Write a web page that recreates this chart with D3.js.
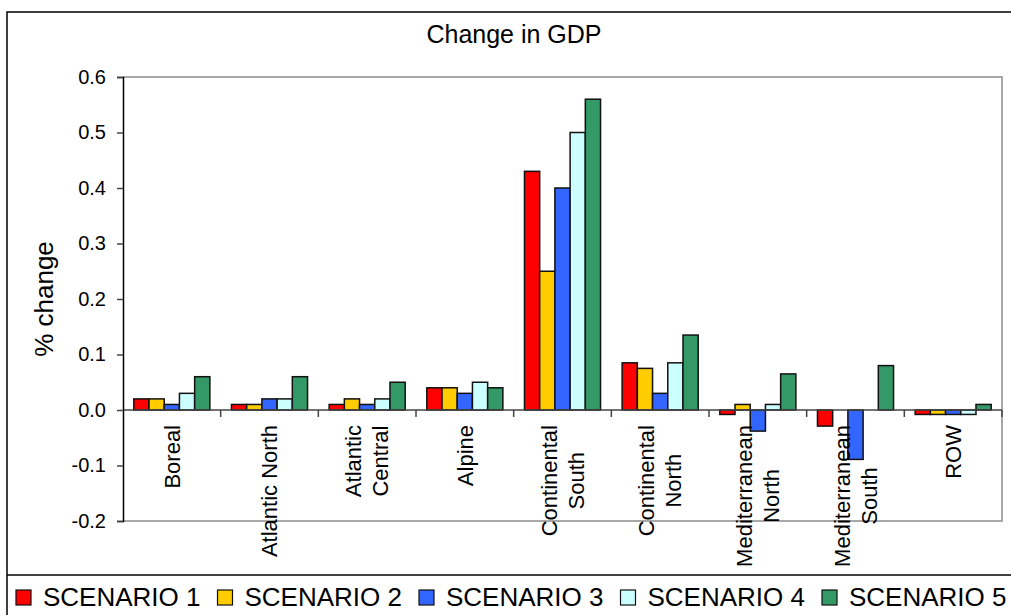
<!DOCTYPE html>
<html>
<head>
<meta charset="utf-8">
<script src="https://cdn.jsdelivr.net/npm/d3@7"></script>
<style>
  body { margin: 0; background: #fff; }
  svg { display: block; font-family: "Liberation Sans", Arial, sans-serif; }
</style>
</head>
<body>
<svg width="1011" height="615"></svg>
<script>
// values
var regions = ["Boreal", "Atlantic North", "Atlantic\nCentral", "Alpine", "Continental\nSouth",
               "Continental\nNorth", "Mediterranean\nNorth", "Mediterranean\nSouth", "ROW"];
var scenarios = ["SCENARIO 1", "SCENARIO 2", "SCENARIO 3", "SCENARIO 4", "SCENARIO 5"];
var scenario1 = [0.02, 0.01, 0.01, 0.04, 0.43, 0.085, -0.008, -0.029, -0.008];
var scenario2 = [0.02, 0.01, 0.02, 0.04, 0.25, 0.075, 0.01, 0, -0.008];
var scenario3 = [0.01, 0.02, 0.01, 0.03, 0.40, 0.03, -0.038, -0.089, -0.008];
var scenario4 = [0.03, 0.02, 0.02, 0.05, 0.50, 0.085, 0.01, 0, -0.008];
var scenario5 = [0.06, 0.06, 0.05, 0.04, 0.56, 0.135, 0.065, 0.08, 0.01];
var yTicks = [-0.2, -0.1, 0, 0.1, 0.2, 0.3, 0.4, 0.5, 0.6];
var yTickLabels = ["-0.2", "-0.1", "0.0", "0.1", "0.2", "0.3", "0.4", "0.5", "0.6"];
var colors = ["#ff0000", "#ffcc00", "#3366ff", "#ccffff", "#339966"];

var series = [scenario1, scenario2, scenario3, scenario4, scenario5];

var svg = d3.select("svg");

var plotLeft = 123, plotRight = 1002, plotTop = 77, plotBottom = 521;

var x0 = d3.scaleBand()
    .domain(regions)
    .range([plotLeft, plotRight]);

var x1 = d3.scaleBand()
    .domain(scenarios)
    .range([0, x0.bandwidth()])
    .paddingOuter(0.71);

var y = d3.scaleLinear()
    .domain([-0.2, 0.6])
    .range([plotBottom, plotTop]);

// chart frame and legend divider
svg.append("rect")
    .attr("x", 7).attr("y", 12)
    .attr("width", 1040).attr("height", 640)
    .attr("fill", "none")
    .attr("stroke", "#000")
    .attr("stroke-width", 1.5);

svg.append("line")
    .attr("x1", 7).attr("x2", 1011)
    .attr("y1", 575).attr("y2", 575)
    .attr("stroke", "#000")
    .attr("stroke-width", 1.5);

svg.append("text")
    .attr("x", 514).attr("y", 43)
    .attr("text-anchor", "middle")
    .style("font-size", "25px")
    .text("Change in GDP");

// plot area border (top, right, bottom)
svg.append("path")
    .attr("d", "M" + plotLeft + "," + y(0.6) + "H" + plotRight + "V" + y(-0.2) + "H" + plotLeft)
    .attr("fill", "none")
    .attr("stroke", "#8c8c8c")
    .attr("stroke-width", 1.5);

// bars
var groups = svg.append("g").selectAll("g")
    .data(regions)
    .enter().append("g")
      .attr("transform", function(d) { return "translate(" + x0(d) + ",0)"; });

groups.selectAll("rect")
    .data(function(d, i) {
      return series.map(function(s, j) { return { key: scenarios[j], value: s[i], color: colors[j] }; })
        .filter(function(e) { return e.value != 0; });
    })
    .enter().append("rect")
      .attr("x", function(d) { return x1(d.key); })
      .attr("y", function(d) { return y(Math.max(0, d.value)); })
      .attr("width", x1.bandwidth())
      .attr("height", function(d) { return Math.abs(y(d.value) - y(0)); })
      .attr("fill", function(d) { return d.color; })
      .attr("stroke", "#111")
      .attr("stroke-width", 1.5);

// zero line with category ticks
var xAxis = svg.append("g")
    .attr("transform", "translate(0," + y(0) + ")");

xAxis.append("line")
    .attr("x1", plotLeft).attr("x2", plotRight)
    .attr("stroke", "#444")
    .attr("stroke-width", 1.5);

xAxis.selectAll(".tk")
    .data(regions)
    .enter().append("line")
      .attr("class", "tk")
      .attr("x1", function(d) { return x0(d) + x0.bandwidth(); })
      .attr("x2", function(d) { return x0(d) + x0.bandwidth(); })
      .attr("y1", 0).attr("y2", 7)
      .attr("stroke", "#444")
      .attr("stroke-width", 1.5);

// y axis
var yAxis = svg.append("g")
    .attr("transform", "translate(" + plotLeft + ",0)")
    .call(d3.axisLeft(y)
      .tickValues(yTicks)
      .tickFormat(function(d, i) { return yTickLabels[i]; })
      .tickSize(6)
      .tickPadding(11));

yAxis.select(".domain").attr("stroke", "#000").attr("stroke-width", 1.5);
yAxis.selectAll(".tick line").attr("stroke", "#444").attr("stroke-width", 1.5);
yAxis.selectAll(".tick text")
    .attr("fill", "#000")
    .style("font-size", "20px")
    .style("font-family", "'Liberation Sans', Arial, sans-serif");

svg.append("text")
    .attr("transform", "translate(53,299) rotate(-90)")
    .attr("text-anchor", "middle")
    .style("font-size", "26px")
    .text("% change");

// rotated category labels, longest line ends just below the zero line
var labels = svg.append("g").selectAll("g")
    .data(regions)
    .enter().append("g")
      .attr("transform", function(d) { return "translate(" + (x0(d) + x0.bandwidth() / 2) + "," + (y(0) + 15) + ") rotate(-90)"; });

labels.each(function(d) {
  var g = d3.select(this);
  var lines = d.split("\n");
  var texts = g.selectAll("text")
      .data(lines)
      .enter().append("text")
        .attr("text-anchor", "middle")
        .attr("y", function(l, i) { return (i - (lines.length - 1) / 2) * 27; })
        .attr("dy", "0.35em")
        .style("font-size", "22px")
        .text(function(l) { return l; });
  var maxLen = d3.max(texts.nodes(), function(n) { return n.getComputedTextLength(); });
  texts.attr("x", -maxLen / 2);
});

// legend
var lx = 16;
scenarios.forEach(function(s, i) {
  svg.append("rect")
      .attr("x", lx).attr("y", 590)
      .attr("width", 15).attr("height", 15)
      .attr("fill", colors[i])
      .attr("stroke", "#111")
      .attr("stroke-width", 1.2);
  var t = svg.append("text")
      .attr("x", lx + 27).attr("y", 606)
      .style("font-size", "26px")
      .text(s);
  lx = lx + 27 + t.node().getComputedTextLength() + 17;
});
</script>
</body>
</html>
